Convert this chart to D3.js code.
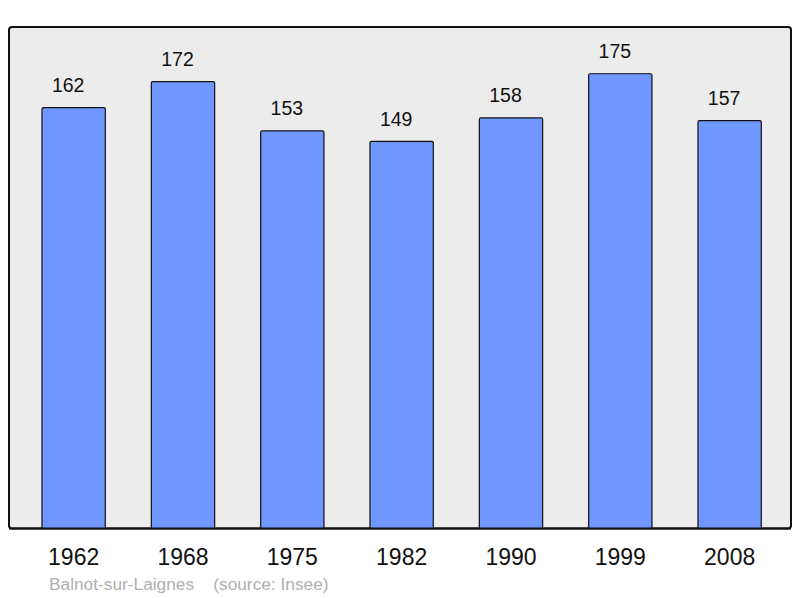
<!DOCTYPE html>
<html>
<head>
<meta charset="utf-8">
<script src="https://cdn.jsdelivr.net/npm/d3@7"></script>
<style>
  html, body { margin: 0; padding: 0; background: #ffffff; }
  svg { display: block; }
</style>
</head>
<body>
<svg id="chart" width="800" height="598"></svg>
<script>
const years = ["1962", "1968", "1975", "1982", "1990", "1999", "2008"];
const population = [162, 172, 153, 149, 158, 175, 157];
const caption = "Balnot-sur-Laignes    (source: Insee)";

const svg = d3.select("#chart");
const frame = { left: 9, top: 27, right: 791, bottom: 528.5 };

const x = d3.scaleBand()
  .domain(years)
  .range([42, 761.3])
  .paddingInner(0.421)
  .paddingOuter(0);

const y = d3.scaleLinear()
  .domain([0, 193])
  .range([frame.bottom, frame.top]);

svg.append("rect")
  .attr("x", frame.left)
  .attr("y", frame.top)
  .attr("width", frame.right - frame.left)
  .attr("height", frame.bottom - frame.top)
  .attr("rx", 3)
  .attr("fill", "#ececec")
  .attr("stroke", "#111")
  .attr("stroke-width", 2);

const data = years.map((yr, i) => ({ year: yr, value: population[i] }));

svg.append("g").selectAll("rect")
  .data(data)
  .join("rect")
  .attr("x", d => x(d.year))
  .attr("y", d => y(d.value))
  .attr("width", x.bandwidth())
  .attr("height", d => y(0) - y(d.value))
  .attr("rx", 1.5)
  .attr("fill", "#7096ff")
  .attr("stroke", "#111")
  .attr("stroke-width", 1.2);

svg.append("g").selectAll("text")
  .data(data)
  .join("text")
  .attr("x", d => x(d.year) + x.bandwidth() / 2 - 5.5)
  .attr("y", d => y(d.value) - 15.5)
  .attr("text-anchor", "middle")
  .attr("font-family", "'Liberation Sans', Arial, sans-serif")
  .attr("font-size", 19.5)
  .attr("fill", "#111")
  .text(d => d.value);

svg.append("line")
  .attr("x1", frame.left).attr("x2", frame.right)
  .attr("y1", frame.bottom).attr("y2", frame.bottom)
  .attr("stroke", "#111").attr("stroke-width", 2);

const xAxis = d3.axisBottom(x).tickSize(0).tickPadding(0);
const gx = svg.append("g")
  .attr("transform", `translate(0, ${frame.bottom})`)
  .call(xAxis);
gx.select(".domain").remove();
gx.selectAll("text")
  .attr("dy", null)
  .attr("y", 36)
  .attr("font-family", "'Liberation Sans', Arial, sans-serif")
  .attr("font-size", 23)
  .attr("fill", "#111");

svg.append("text")
  .attr("x", 49)
  .attr("y", 590)
  .attr("font-family", "'Liberation Sans', Arial, sans-serif")
  .attr("font-size", 17.3)
  .attr("fill", "#b0b0b0")
  .attr("xml:space", "preserve")
  .style("white-space", "pre")
  .text(caption);
</script>
</body>
</html>
